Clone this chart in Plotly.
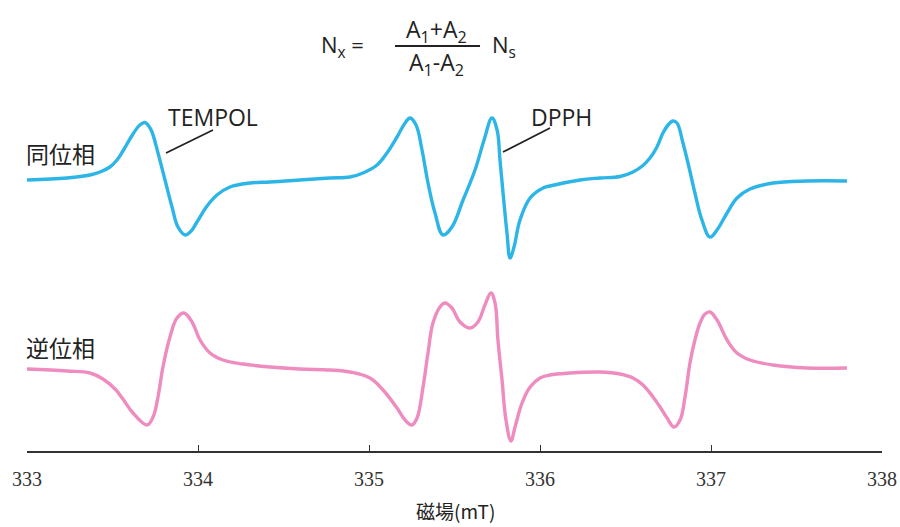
import plotly.graph_objects as go

# Magnetic field (mT) and first-derivative ESR signal (a.u.), in-phase detection
field_in = [333.000, 333.234, 333.368, 333.427, 333.485, 333.526, 333.561, 333.620,
            333.660, 333.690, 333.712, 333.731, 333.766, 333.807, 333.848, 333.883,
            333.924, 333.960, 333.994, 334.053, 334.111, 334.187, 334.304, 334.421,
            334.596, 334.772, 334.889, 334.965, 335.047, 335.105, 335.164, 335.211,
            335.240, 335.275, 335.310, 335.345, 335.386, 335.433, 335.485, 335.550,
            335.620, 335.673, 335.719, 335.749, 335.766, 335.784, 335.807, 335.825,
            335.848, 335.883, 335.942, 336.018, 336.058, 336.234, 336.351, 336.468,
            336.544, 336.602, 336.643, 336.684, 336.719, 336.749, 336.778, 336.801,
            336.836, 336.871, 336.906, 336.947, 336.994, 337.035, 337.094, 337.152,
            337.228, 337.363, 337.561, 337.795]
signal_in = [0.0, 0.2, 0.5, 0.8, 1.3, 2.0, 2.9, 4.6,
             5.5, 5.75, 5.4, 4.8, 2.7, 0.0, -2.7, -4.7,
             -5.5, -5.1, -4.2, -2.6, -1.5, -0.7, -0.3, -0.2,
             0.0, 0.2, 0.3, 0.7, 1.5, 2.7, 4.3, 5.7,
             6.2, 5.5, 3.0, -0.3, -3.3, -5.5, -4.7, -2.0,
             1.0, 4.0, 6.2, 5.0, 2.0, -1.3, -5.3, -7.8,
             -6.7, -4.0, -1.8, -0.8, -0.6, 0.0, 0.2, 0.35,
             0.8, 1.45, 2.2, 3.3, 4.7, 5.5, 5.9, 5.7,
             3.7, 1.3, -1.3, -4.0, -5.7, -5.0, -3.3, -1.8,
             -0.9, -0.3, -0.1, -0.1]

# Out-of-phase detection
field_out = [333.000, 333.234, 333.368, 333.444, 333.515, 333.561, 333.620, 333.702,
             333.737, 333.766, 333.795, 333.836, 333.877, 333.918, 333.965, 334.012,
             334.070, 334.146, 334.263, 334.421, 334.596, 334.772, 334.889, 335.006,
             335.082, 335.164, 335.211, 335.251, 335.281, 335.316, 335.345, 335.374,
             335.415, 335.444, 335.485, 335.532, 335.591, 335.637, 335.678, 335.713,
             335.737, 335.754, 335.778, 335.801, 335.830, 335.854, 335.895, 335.942,
             336.000, 336.058, 336.175, 336.351, 336.468, 336.544, 336.602, 336.661,
             336.702, 336.743, 336.784, 336.819, 336.848, 336.877, 336.906, 336.936,
             336.965, 336.994, 337.035, 337.094, 337.152, 337.228, 337.363, 337.561,
             337.795]
signal_out = [0.0, -0.2, -0.4, -1.0, -2.0, -3.0, -4.4, -5.6,
              -4.8, -2.8, 0.2, 3.2, 5.1, 5.6, 4.7, 2.9,
              1.6, 0.9, 0.5, 0.2, 0.0, -0.1, -0.3, -0.9,
              -2.1, -3.9, -5.1, -5.6, -4.9, -1.8, 1.6, 4.6,
              6.2, 6.6, 6.1, 4.7, 4.1, 4.7, 6.4, 7.6,
              6.6, 2.9, -1.1, -5.1, -7.2, -5.8, -3.4, -1.8,
              -0.9, -0.6, -0.4, -0.3, -0.5, -0.9, -1.6, -2.8,
              -3.8, -4.9, -5.8, -5.1, -2.8, 0.6, 2.9, 4.6,
              5.5, 5.7, 4.9, 2.9, 1.6, 0.9, 0.4, 0.1,
              0.1]

x_ticks = [333, 334, 335, 336, 337, 338]
trace_names = ["同位相", "逆位相"]
peak_labels = ["TEMPOL", "DPPH"]

# vertical stacking of the two spectra
OFFSET_IN = 27.1
OFFSET_OUT = 8.2

BLUE = "#2cb5e6"
PINK = "#ee8cbf"
INK = "#222222"

fig = go.Figure()
fig.add_trace(go.Scatter(
    x=field_in, y=[v + OFFSET_IN for v in signal_in], mode="lines",
    line=dict(color=BLUE, width=3.4, shape="spline", smoothing=1.1),
    name=trace_names[0], hoverinfo="skip"))
fig.add_trace(go.Scatter(
    x=field_out, y=[v + OFFSET_OUT for v in signal_out], mode="lines",
    line=dict(color=PINK, width=3.4, shape="spline", smoothing=1.1),
    name=trace_names[1], hoverinfo="skip"))

cjk = "Noto Sans CJK JP"
sans = "Open Sans"

def note(x, y, text, family, size, xanchor="center", yanchor="middle"):
    return dict(xref="paper", yref="paper", x=x, y=y, text=text, showarrow=False,
                font=dict(family=family, size=size, color=INK),
                xanchor=xanchor, yanchor=yanchor)

anns = [
    # trace names
    note(-0.004, 0.849, trace_names[0], cjk, 23, "left"),
    note(-0.004, 0.296, trace_names[1], cjk, 23, "left"),
    # peak labels
    note(0.2175, 0.952, peak_labels[0], sans, 23),
    note(0.6257, 0.952, peak_labels[1], sans, 23),
    # formula  Nx = (A1+A2)/(A1-A2) Ns
    note(0.397, 1.154, "N<sub>x</sub> =", sans, 22, "right"),
    note(0.4795, 1.199, "A<sub>1</sub>+A<sub>2</sub>", sans, 23),
    note(0.4795, 1.105, "A<sub>1</sub>-A<sub>2</sub>", sans, 23),
    note(0.5415, 1.154, "N<sub>s</sub>", sans, 22, "left"),
    # axis title
    note(0.5006, -0.2145, "磁場(mT)", cjk, 19, "center", "bottom"),
]

def seg(x0, y0, x1, y1, width):
    return dict(type="line", xref="paper", yref="paper", x0=x0, y0=y0, x1=x1, y1=y1,
                line=dict(color=INK, width=width))

shapes = [
    seg(0.4304, 1.154, 0.5298, 1.154, 2),        # fraction bar
    seg(0.2175, 0.9145, 0.1626, 0.849, 1.8),     # TEMPOL leader
    seg(0.6117, 0.9202, 0.5567, 0.8519, 1.8),    # DPPH leader
]

fig.update_layout(
    width=900, height=527,
    margin=dict(l=27, r=18, t=100, b=76),
    paper_bgcolor="white", plot_bgcolor="white",
    showlegend=False,
    annotations=anns, shapes=shapes,
    xaxis=dict(range=[333, 338], tickvals=x_ticks,
               ticktext=[str(t) for t in x_ticks],
               automargin=False,
               showgrid=False, zeroline=False,
               showline=True, linecolor="#333333", linewidth=1.6,
               ticks="inside", ticklen=6, tickwidth=1.4, tickcolor="#333333",
               ticklabelstandoff=9,
               tickfont=dict(family="Liberation Serif", size=20, color="#333333")),
    yaxis=dict(range=[0, 35.1], visible=False, automargin=False),
)

fig.write_html("out.html")
